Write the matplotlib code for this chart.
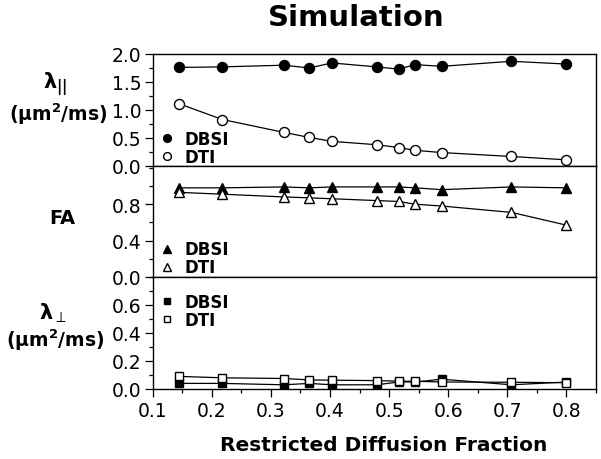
import matplotlib
matplotlib.use("Agg")
import matplotlib.pyplot as plt
from matplotlib.ticker import MultipleLocator, FixedLocator, FormatStrFormatter
from matplotlib.lines import Line2D

plt.rcParams['font.family'] = ['DejaVu Sans']
plt.rcParams['mathtext.fontset'] = 'dejavusans'

# ---- data ----
fraction = [0.145, 0.218, 0.322, 0.365, 0.403, 0.479, 0.516, 0.544, 0.589, 0.707, 0.800]

ad_dbsi = [1.76, 1.77, 1.80, 1.75, 1.84, 1.77, 1.73, 1.81, 1.78, 1.87, 1.82]
ad_dti = [1.11, 0.83, 0.60, 0.51, 0.44, 0.38, 0.33, 0.28, 0.24, 0.17, 0.11]

fa_dbsi = [0.98, 0.98, 0.99, 0.98, 0.99, 0.99, 0.99, 0.98, 0.96, 0.99, 0.98]
fa_dti = [0.93, 0.91, 0.88, 0.87, 0.86, 0.84, 0.83, 0.80, 0.78, 0.71, 0.57]

rd_dbsi = [0.04, 0.04, 0.03, 0.04, 0.03, 0.03, 0.05, 0.05, 0.07, 0.03, 0.05]
rd_dti = [0.09, 0.08, 0.075, 0.065, 0.063, 0.06, 0.056, 0.055, 0.05, 0.048, 0.045]

series_labels = ["DBSI", "DTI"]
title = "Simulation"
xlabel = "Restricted Diffusion Fraction"

W, H = 601, 460
fig = plt.figure(figsize=(W / 100, H / 100), dpi=100)

left_px, right_px = 152.7, 596
panels_px = [(55, 167), (167, 278), (278, 390)]


def add_ax(top, bottom):
    return fig.add_axes([left_px / W, 1 - bottom / H, (right_px - left_px) / W, (bottom - top) / H])


axes = [add_ax(t, b) for t, b in panels_px]

panel_data = [
    (ad_dbsi, ad_dti, 'o', 7.2, (0, 2.0), [0, 0.5, 1.0, 1.5, 2.0], 0.25, -0.10),
    (fa_dbsi, fa_dti, '^', 7.5, (0, 1.22), [0, 0.4, 0.8], 0.2, -0.10),
    (rd_dbsi, rd_dti, 's', 5.8, (0, 0.8), [0, 0.2, 0.4, 0.6], 0.1, 0.43),
]

for ax, (d1, d2, mk, ms, ylim, yt, ymin, legy) in zip(axes, panel_data):
    ax.plot(fraction, d1, color='black', lw=0.9, marker=mk, ms=ms,
            mfc='black', mec='black', zorder=3)
    ax.plot(fraction, d2, color='black', lw=0.9, marker=mk, ms=ms,
            mfc='white', mec='black', mew=1.0, zorder=4)
    ax.set_xlim(0.1, 0.85)
    ax.set_ylim(*ylim)
    ax.yaxis.set_major_locator(FixedLocator(yt))
    ax.yaxis.set_minor_locator(MultipleLocator(ymin))
    ax.yaxis.set_major_formatter(FormatStrFormatter('%.1f'))
    ax.tick_params(axis='y', which='major', direction='out', length=6, width=0.9,
                   labelsize=13.5, pad=2)
    ax.tick_params(axis='y', which='minor', direction='out', length=3, width=0.9)
    for s in ax.spines.values():
        s.set_linewidth(1.0)
    handles = [
        Line2D([], [], ls='none', marker=mk, ms=ms * 0.78, mfc='black', mec='black'),
        Line2D([], [], ls='none', marker=mk, ms=ms * 0.78, mfc='white', mec='black'),
    ]
    ax.legend(handles, series_labels, frameon=False, loc='lower left',
              bbox_to_anchor=(-0.01, legy), handlelength=0.8,
              handletextpad=0.7, labelspacing=0.0, borderpad=0.2,
              prop={'weight': 'bold', 'size': 12})

for ax in axes[:2]:
    ax.tick_params(axis='x', which='both', bottom=False, labelbottom=False)

ax = axes[2]
ax.xaxis.set_major_locator(MultipleLocator(0.1))
ax.xaxis.set_minor_locator(MultipleLocator(0.05))
ax.xaxis.set_major_formatter(FormatStrFormatter('%.1f'))
ax.tick_params(axis='x', which='major', direction='out', length=6, width=0.9,
               labelsize=13.5, pad=3)
ax.tick_params(axis='x', which='minor', direction='out', length=3, width=0.9)

fig.text(384 / W, 1 - 446 / H, xlabel, ha='center', va='center',
         fontsize=14.5, fontweight='bold')
fig.text(356 / W, 1 - 18 / H, title, ha='center', va='center',
         fontsize=21, fontweight='bold')


def ftext(x, y, s, **kw):
    fig.text(x / W, 1 - y / H, s, ha='center', va='center', fontweight='bold', **kw)


ftext(55, 85, r'λ$_{\mathbf{||}}$', fontsize=15)
ftext(58, 114, r'(μm$^{\mathbf{2}}$/ms)', fontsize=13.5)
ftext(62, 219, 'FA', fontsize=14)
ftext(53, 313, r'λ$_{\perp}$', fontsize=15)
ftext(55, 340, r'(μm$^{\mathbf{2}}$/ms)', fontsize=13.5)

fig.savefig('out.png', dpi=100)
